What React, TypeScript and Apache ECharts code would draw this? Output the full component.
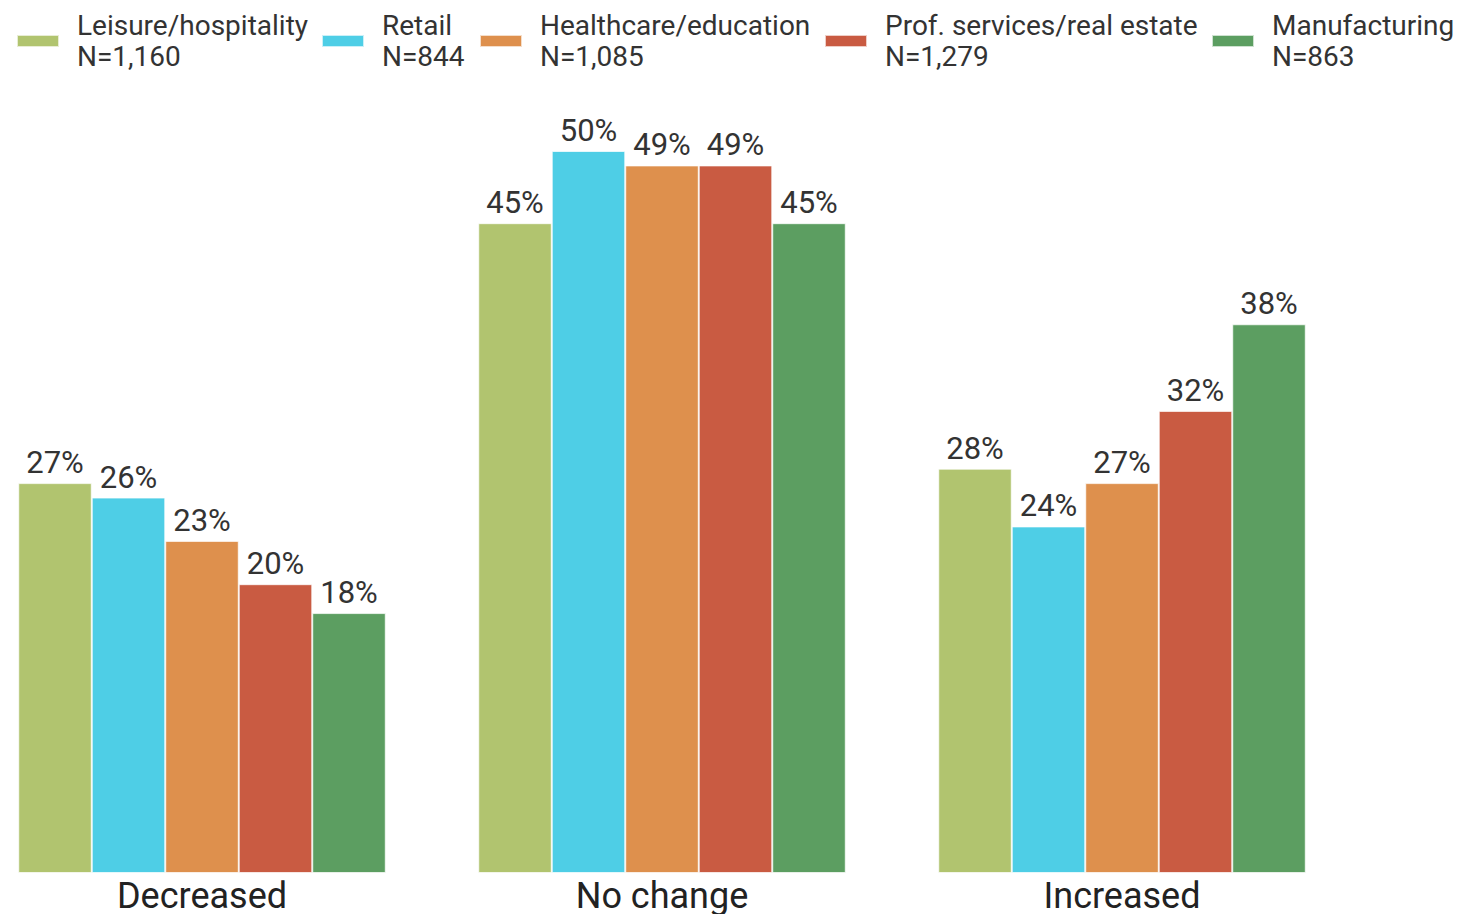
import React, { useEffect, useRef } from "react";
import * as echarts from "echarts";

const categories = ["Decreased", "No change", "Increased"];
const seriesNames = [
  "Leisure/hospitality",
  "Retail",
  "Healthcare/education",
  "Prof. services/real estate",
  "Manufacturing",
];
const sampleSizes = ["N=1,160", "N=844", "N=1,085", "N=1,279", "N=863"];
const leisure = [27, 45, 28];
const retail = [26, 50, 24];
const healthcare = [23, 49, 27];
const profServices = [20, 49, 32];
const manufacturing = [18, 45, 38];
const colors = ["#B1C46F", "#4ECEE6", "#DE904D", "#C95B42", "#5C9E61"];
const legendLefts = [11, 316, 474, 819, 1206];

export default function App() {
  const ref = useRef<HTMLDivElement>(null);
  useEffect(() => {
    if (!ref.current) return;
    const chart = echarts.init(ref.current, null, { renderer: "svg" });
    const values = [leisure, retail, healthcare, profServices, manufacturing];
    const font = "Roboto, 'Noto Sans', sans-serif";
    chart.setOption({
      animation: false,
      backgroundColor: "#ffffff",
      textStyle: { fontFamily: font },
      legend: seriesNames.map((name, i) => ({
        data: [name],
        left: legendLefts[i],
        top: 1,
        itemWidth: 42,
        itemHeight: 12,
        icon: "rect",
        selectedMode: false,
        formatter: (n: string) => `${n}\n${sampleSizes[i]}`,
        textStyle: {
          fontSize: 28,
          lineHeight: 31,
          color: "#333333",
          fontFamily: font,
          padding: [0, 0, 8, 13],
        },
      })),
      grid: { left: 202, right: 336, top: 151, bottom: 39, containLabel: false },
      xAxis: {
        type: "category",
        data: categories,
        boundaryGap: false,
        axisLine: { show: false },
        axisTick: { show: false },
        axisLabel: { fontSize: 36, color: "#222222", margin: 5, fontFamily: font },
      },
      yAxis: {
        type: "value",
        min: 0,
        max: 50,
        show: false,
        splitLine: { show: false },
      },
      series: seriesNames.map((name, i) => ({
        name,
        type: "bar",
        data: values[i],
        barWidth: 73.5,
        barGap: "0%",
        itemStyle: {
          color: colors[i],
          borderColor: "rgba(255,255,255,0.7)",
          borderWidth: 1,
        },
        label: {
          show: true,
          position: "top",
          distance: 5,
          formatter: "{c}%",
          fontSize: 31,
          color: "#333333",
          fontFamily: font,
        },
      })),
    });
    return () => chart.dispose();
  }, []);
  return (
    <div
      ref={ref}
      style={{ position: "absolute", left: 0, top: 0, width: 1458, height: 914 }}
    />
  );
}
